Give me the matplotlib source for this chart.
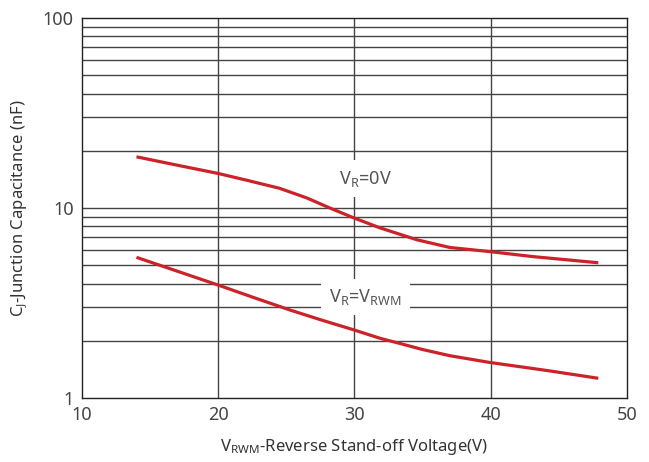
import numpy as np
import matplotlib
matplotlib.use("Agg")
from matplotlib import pyplot as plt

plt.rcParams['font.family'] = ['Noto Sans', 'DejaVu Sans']
plt.rcParams['mathtext.fontset'] = 'custom'
plt.rcParams['mathtext.rm'] = 'Noto Sans'

# curve values
v0_x = [14.0, 17.0, 20.0, 22.1, 24.5, 26.5, 28.2, 29.9, 31.9, 34.6, 37.0, 39.9, 43.1, 47.9]
v0_y = [18.6, 16.8, 15.2, 14.0, 12.7, 11.3, 10.0, 8.9, 7.85, 6.8, 6.2, 5.9, 5.55, 5.15]
vr_x = [14.0, 17.0, 20.0, 22.6, 25.3, 27.6, 29.9, 31.9, 33.3, 35.0, 37.0, 39.9, 44.3, 47.9]
vr_y = [5.5, 4.65, 3.93, 3.38, 2.9, 2.57, 2.29, 2.06, 1.94, 1.8, 1.67, 1.54, 1.39, 1.27]

xticks = [10, 20, 30, 40, 50]
yticks = [1, 10, 100]

fig = plt.figure(figsize=(6.49, 4.62), dpi=100)
ax = fig.add_axes([0.1263, 0.1385, 0.966 - 0.1263, 0.961 - 0.1385])

# grid
for x in [20, 30, 40]:
    ax.axvline(x, color="#444444", lw=1.0, zorder=1)
for d in [1, 10]:
    for m in range(2, 10):
        ax.axhline(d * m, color="#444444", lw=1.0, zorder=1)
ax.axhline(10, color="#444444", lw=1.0, zorder=1)

ax.plot(v0_x, v0_y, color="#cc2229", lw=2.3, zorder=3, solid_capstyle="butt")
ax.plot(vr_x, vr_y, color="#cc2229", lw=2.3, zorder=3, solid_capstyle="butt")

box = dict(facecolor="white", edgecolor="none", pad=6)
ax.text(30.8, 14.3, r"$\mathregular{V_R}$=0V", fontsize=13, color="#555555",
        ha="center", va="center", bbox=box, zorder=2)
ax.text(30.8, 3.4, r"$\mathregular{V_R}$=$\mathregular{V_{RWM}}$", fontsize=13,
        color="#555555", ha="center", va="center", bbox=box, zorder=2)

ax.set_yscale("log")
ax.set_xlim(10, 50)
ax.set_ylim(1, 100)
ax.set_xticks(xticks)
ax.set_xticklabels([str(t) for t in xticks])
ax.set_yticks(yticks)
ax.set_yticklabels([str(t) for t in yticks])
ax.yaxis.set_minor_locator(matplotlib.ticker.NullLocator())
ax.tick_params(length=0, labelsize=13, colors="#444444", pad=6)
for s in ax.spines.values():
    s.set_color("#222222")
    s.set_linewidth(1.0)

ax.set_xlabel(r"$\mathregular{V_{RWM}}$-Reverse Stand-off Voltage(V)", fontsize=12,
              color="#333333", labelpad=9)
ax.set_ylabel(r"$\mathregular{C_J}$-Junction Capacitance (nF)", fontsize=12,
              color="#333333", labelpad=10)

plt.savefig("out.png", dpi=100)
